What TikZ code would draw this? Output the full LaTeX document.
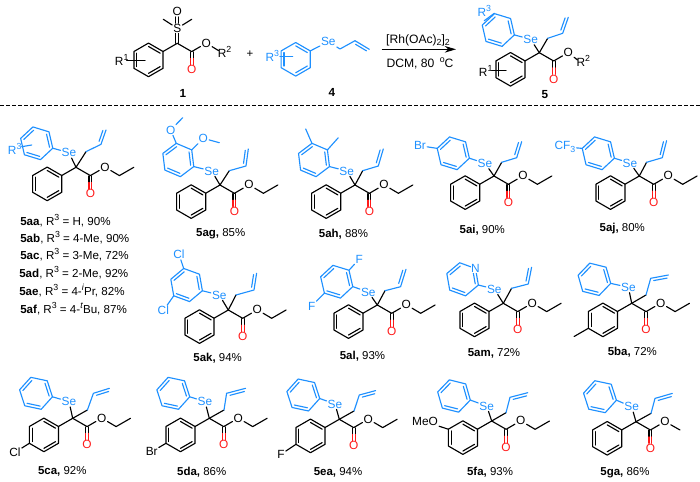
\documentclass[tikz,border=0pt]{standalone}
\usepackage{fontspec}
\setmainfont{Liberation Sans}
\usetikzlibrary{calc,arrows.meta}
\definecolor{chemblue}{RGB}{30,144,255}
\definecolor{chemred}{RGB}{255,25,25}
\newcommand\sps[1]{\raisebox{0.42em}{\fontsize{6.6}{6}\selectfont #1}}
\newcommand\sbs[1]{\raisebox{-0.22em}{\fontsize{6.6}{6}\selectfont #1}}
\tikzset{
  bond/.style={line width=0.85pt,line join=round,line cap=round},
  bbond/.style={bond,chemblue},
  atom/.style={inner sep=0.7pt,font=\fontsize{8.9}{9}\selectfont},
  blueatom/.style={atom,text=chemblue},
  redatom/.style={atom,text=chemred},
  captext/.style={inner sep=0pt,font=\fontsize{8.6}{10}\selectfont},
  listtext/.style={inner sep=0pt,anchor=base west,font=\fontsize{8.7}{10}\selectfont},
  condtext/.style={inner sep=0pt,anchor=base,font=\fontsize{9.1}{10}\selectfont},
  labeltext/.style={inner sep=0pt,font=\fontsize{8.8}{10}\selectfont\bfseries},
}
% ring: (#1-ctr) must exist; #2 colour; #3 rotation of vertex 0
\newcommand\hexa[3]{%
  \begin{scope}[shift={(#1-ctr)}]
    \foreach \k in {0,...,5}{\coordinate (#1-\k) at ({#3+60*\k}:16.8);}
  \end{scope}
  \draw[bond,#2] (#1-0)--(#1-1)--(#1-2)--(#1-3)--(#1-4)--(#1-5)--cycle;
  \draw[bond,#2] ($(#1-ctr)!0.8!(#1-5)$)--($(#1-ctr)!0.8!(#1-0)$);
  \draw[bond,#2] ($(#1-ctr)!0.8!(#1-1)$)--($(#1-ctr)!0.8!(#1-2)$);
  \draw[bond,#2] ($(#1-ctr)!0.8!(#1-3)$)--($(#1-ctr)!0.8!(#1-4)$);
}
% quaternary carbon, C(=O)O; #1 name, #2,#3 position
\newcommand\ester[3]{%
  \coordinate (#1-c) at (#2,#3);
  \begin{scope}[shift={(#1-c)}]
    \coordinate (#1-ec) at (14.4,8.3);
    \node[redatom] (#1-od) at (14.4,26.6) {O};
    \node[atom] (#1-o) at (29,-0.2) {O};
    \draw[bond] (#1-c)--(#1-ec)--(#1-o);
    \draw[bond] (13,8.6)--(13,15.2) (15.8,8.6)--(15.8,15.2);
    \draw[bond,chemred] (13,15.2)--(13,21.6) (15.8,15.2)--(15.8,21.6);
  \end{scope}
}
\newcommand\ethyl[1]{%
  \begin{scope}[shift={(#1-c)}]
    \coordinate (#1-e1) at (43.4,8.3);
    \coordinate (#1-e2) at (57.8,0);
  \end{scope}
  \draw[bond] (#1-o)--(#1-e1)--(#1-e2);
}
\newcommand\aryl[1]{%
  \begin{scope}[shift={(#1-c)}]
    \coordinate (#1-a-ctr) at (-28.8,16.6);
  \end{scope}
  \hexa{#1-a}{black}{90}
  \draw[bond] (#1-c)--(#1-a-4);
}
% name; Se x,y; ring centre x,y; ring rotation (all relative to the carbon)
\newcommand\selenyl[6]{%
  \begin{scope}[shift={(#1-c)}]
    \node[blueatom] (#1-se) at (#2,#3) {Se};
    \coordinate (#1-r-ctr) at (#4,#5);
  \end{scope}
  \hexa{#1-r}{chemblue}{#6}
  \draw[bond] (#1-c)--(#1-se);
  \draw[bbond] (#1-se)--(#1-r-0);
}
% name; CH2 x,y; CH x,y; =CH2 x,y; side of the second line
\newcommand\allyl[8]{%
  \begin{scope}[shift={(#1-c)}]
    \coordinate (#1-l1) at (#2,#3);
    \coordinate (#1-l2) at (#4,#5);
    \coordinate (#1-l3) at (#6,#7);
  \end{scope}
  \draw[bond] (#1-c)--(#1-l1);
  \draw[bbond] (#1-l1)--(#1-l2)--(#1-l3);
  \draw[bbond] ($(#1-l2)!0.14!(#1-l3)!2.1pt!#8:(#1-l3)$)--($(#1-l3)!0.1!(#1-l2)!2.1pt!-#8:(#1-l2)$);
}
\begin{document}
\begin{tikzpicture}[x=0.75pt,y=-0.75pt]
\useasboundingbox (0,0) rectangle (700,482);

% ---------- reactant 1
\ester{m}{177.3}{43.3}
\aryl{m}
\node[atom] (m-s) at (177.3,28.3) {S};
\node[atom] (m-so) at (177.3,11.7) {O};
\coordinate (m-me1) at (163.3,19.3);
\coordinate (m-me2) at (191.7,19.3);
\draw[bond] (m-me1)--(m-s)--(m-me2);
\draw[bond] (175.9,43.3)--(175.9,33.4) (178.7,43.3)--(178.7,33.4);
\draw[bond] (175.9,23.2)--(175.9,17) (178.7,23.2)--(178.7,17);
\node[atom,anchor=base] (m-r2) at (224.5,57.3) {R\sps{2}};
\draw[bond] (m-o)--(218.5,50.6) coordinate (m-r2e);
\node[atom,anchor=base] (m-r1) at (121.7,65) {R\sps{1}};
\coordinate (m-r1a) at (126.7,60.7);
\coordinate (m-r1b) at (145,60.7);
\draw[bond] (m-r1a)--(m-r1b);
\node[labeltext] (n-1) at (183,93) {1};
\node[captext] (plus) at (250,54) {+};

% ---------- reactant 4
\coordinate (s-r-ctr) at (295.7,59.3);
\hexa{s-r}{chemblue}{90}
\node[blueatom] (s-se) at (328.3,41.7) {Se};
\coordinate (s-l1) at (340,49);
\coordinate (s-l2) at (355,40.7);
\coordinate (s-l3) at (369.3,49.3);
\draw[bbond] (s-r-4)--(s-se)--(s-l1)--(s-l2)--(s-l3);
\draw[bbond] ($(s-l2)!0.14!(s-l3)!2.1pt!-90:(s-l3)$)--($(s-l3)!0.1!(s-l2)!2.1pt!90:(s-l2)$);
\node[blueatom,anchor=base] (s-r3) at (272.3,61) {R\sps{3}};
\coordinate (s-r3a) at (280,56.7);
\coordinate (s-r3b) at (292.7,56.7);
\draw[bbond] (s-r3a)--(s-r3b);
\node[labeltext] (n-4) at (332,92) {4};

% ---------- arrow
\coordinate (arr-a) at (381.7,49.3);
\coordinate (arr-b) at (456,49.3);
\draw[line width=0.75pt,-{Stealth[length=8.5pt,width=5pt]}] (arr-a)--(arr-b);
\node[condtext] (cond-a) at (418,43) {[Rh(OAc)\sbs{2}]\sbs{2}};
\node[condtext] (cond-b) at (420,67.5) {DCM, 80\, \sps{o}C};

% ---------- product 5
\ester{p}{539.3}{52.7}
\aryl{p}
\selenyl{p}{-8.6}{-13.4}{-41}{-22.7}{17}
\allyl{p}{8.4}{-14.4}{23.4}{-19.4}{29}{-35.4}{90}
\node[atom,anchor=base] (p-r2) at (583.3,66.7) {R\sps{2}};
\draw[bond] (p-o)--(577.5,60) coordinate (p-r2e);
\node[atom,anchor=base] (p-r1) at (485.7,76) {R\sps{1}};
\coordinate (p-r1a) at (491.7,70.7);
\coordinate (p-r1b) at (506,70.7);
\draw[bond] (p-r1a)--(p-r1b);
\node[blueatom,anchor=base] (p-r3) at (484.3,16) {R\sps{3}};
\coordinate (p-r3a) at (484.3,20.7);
\coordinate (p-r3b) at (494.3,13.3);
\draw[bbond] (p-r3a)--(p-r3b);
\node[labeltext] (n-5) at (545,95) {5};

% ---------- separator
\coordinate (sep-a) at (0,105.7);
\coordinate (sep-b) at (700,105.7);
\draw[line width=0.7pt,dash pattern=on 3.1pt off 1.4pt] (sep-a)--(sep-b);

% ---------- 5aa list
\ester{aa}{76}{167.3}\aryl{aa}\ethyl{aa}
\selenyl{aa}{-7}{-14.6}{-39.3}{-24}{17}
\allyl{aa}{10}{-15.6}{25}{-23}{30}{-37.3}{90}
\node[blueatom,anchor=base] (aa-r3) at (14.7,154.3) {R\sps{3}};
\coordinate (aa-r3a) at (21.7,146.7);
\coordinate (aa-r3b) at (31.7,145);
\draw[bbond] (aa-r3a)--(aa-r3b);
\node[listtext] (l1) at (20,225) {\textbf{5aa}, R\sps{3} = H, 90\%};
\node[listtext] (l2) at (20,242.2) {\textbf{5ab}, R\sps{3} = 4-Me, 90\%};
\node[listtext] (l3) at (20,259) {\textbf{5ac}, R\sps{3} = 3-Me, 72\%};
\node[listtext] (l4) at (19,277.2) {\textbf{5ad}, R\sps{3} = 2-Me, 92\%};
\node[listtext] (l5) at (19,295.6) {\textbf{5ae}, R\sps{3} = 4-\sps{\textit{i}}Pr, 82\%};
\node[listtext] (l6) at (20,313.2) {\textbf{5af}, R\sps{3} = 4-\sps{\textit{t}}Bu, 87\%};

% ---------- 5ag
\ester{ag}{220}{185}\aryl{ag}\ethyl{ag}
\selenyl{ag}{-8.3}{-14}{-41.7}{-25}{23}
\allyl{ag}{9.3}{-14.3}{26}{-19}{28.3}{-36}{90}
\node[blueatom] (ag-o1) at (170.7,130) {O};
\coordinate (ag-me1) at (182.7,117.7);
\draw[bbond] (ag-r-4)--(ag-o1)--(ag-me1);
\node[blueatom] (ag-o2) at (203.3,138.3) {O};
\coordinate (ag-me2) at (219.3,142.7);
\draw[bbond] (ag-r-5)--(ag-o2)--(ag-me2);
\node[captext] (cap-ag) at (220.7,234) {\textbf{5ag,} 85\%};

% ---------- 5ah
\ester{ah}{355}{185}\aryl{ah}\ethyl{ah}
\selenyl{ah}{-8.3}{-14}{-41}{-25}{23}
\allyl{ah}{7.7}{-14.3}{23.3}{-19}{28.3}{-36}{90}
\coordinate (ah-me1) at (305.7,129);
\coordinate (ah-me2) at (338.3,137.7);
\draw[bbond] (ah-r-4)--(ah-me1) (ah-r-5)--(ah-me2);
\node[captext] (cap-ah) at (343.5,234) {\textbf{5ah,} 88\%};

% ---------- 5ai
\ester{ai}{494}{176}\aryl{ai}\ethyl{ai}
\selenyl{ai}{-9}{-12.7}{-40.7}{-22.7}{17}
\allyl{ai}{7.7}{-13.7}{22.7}{-18.3}{27.7}{-34.3}{90}
\node[blueatom] (ai-br) at (420,145.7) {Br};
\draw[bbond] (ai-r-3)--(ai-br);
\node[captext] (cap-ai) at (482.3,230) {\textbf{5ai,} 90\%};

% ---------- 5aj
\ester{aj}{639.3}{176}\aryl{aj}\ethyl{aj}
\selenyl{aj}{-9.3}{-13}{-41}{-22.7}{17}
\allyl{aj}{7.3}{-13.7}{23}{-18.3}{27.3}{-35.3}{90}
\node[blueatom,anchor=base] (aj-cf) at (565,149.6) {CF\sbs{3}};
\draw[bbond] (aj-r-3)--(aj-cf);
\node[captext] (cap-aj) at (622.3,229) {\textbf{5aj,} 80\%};

% ---------- 5ak
\ester{ak}{228.3}{310}\aryl{ak}\ethyl{ak}
\selenyl{ak}{-9}{-15}{-41.7}{-25}{20}
\allyl{ak}{7.7}{-15}{25.7}{-20}{28.3}{-36.7}{90}
\node[blueatom] (ak-cl1) at (179,254.3) {Cl};
\node[blueatom] (ak-cl2) at (163.3,310.7) {Cl};
\draw[bbond] (ak-r-4)--(ak-cl1) (ak-r-2)--(ak-cl2);
\node[captext] (cap-ak) at (217.7,358.3) {\textbf{5ak,} 94\%};

% ---------- 5al
\ester{al}{377.3}{305}\aryl{al}\ethyl{al}
\selenyl{al}{-9}{-13}{-40.6}{-23.3}{17}
\allyl{al}{7.7}{-14.3}{23.3}{-18.3}{28.7}{-35.7}{90}
\node[blueatom] (al-f1) at (359.3,259) {F};
\node[blueatom] (al-f2) at (311.7,306) {F};
\draw[bbond] (al-r-5)--(al-f1) (al-r-2)--(al-f2);
\node[captext] (cap-al) at (362.5,356) {\textbf{5al,} 93\%};

% ---------- 5am
\ester{am}{503.3}{303.3}\aryl{am}\ethyl{am}
\selenyl{am}{-9}{-14.3}{-40.7}{-24}{20}
\allyl{am}{8.3}{-15}{25}{-19.3}{28.3}{-36}{90}
\node[blueatom,fill=white,inner sep=0.4pt] (am-n) at (am-r-5) {N};
\node[captext] (cap-am) at (494,353) {\textbf{5am,} 72\%};

% ---------- 5ba
\ester{ba}{631.7}{303.3}\aryl{ba}\ethyl{ba}
\selenyl{ba}{-3.3}{-16}{-37.3}{-24}{14}
\allyl{ba}{14.3}{-8.3}{19}{-25}{36.7}{-28.3}{-90}
\coordinate (ba-me) at (574.1,336.5);
\draw[bond] (ba-a-1)--(ba-me);
\node[captext] (cap-ba) at (632.3,352) {\textbf{5ba,} 72\%};

% ---------- 5ca
\ester{ca}{72.7}{418.3}\aryl{ca}\ethyl{ca}
\selenyl{ca}{-3.7}{-16.7}{-36.7}{-25}{12}
\allyl{ca}{14.7}{-8.3}{20.7}{-25}{36.7}{-30}{-90}
\node[atom] (ca-cl) at (15,452.3) {Cl};
\draw[bond] (ca-a-1)--(ca-cl);
\node[captext] (cap-ca) at (62.3,471.7) {\textbf{5ca,} 92\%};

% ---------- 5da
\ester{da}{209.3}{418.3}\aryl{da}\ethyl{da}
\selenyl{da}{-4.3}{-16.7}{-36}{-25}{12}
\allyl{da}{14.7}{-8.3}{17.3}{-25}{36.3}{-30}{-90}
\node[atom] (da-br) at (151.7,451.7) {Br};
\draw[bond] (da-a-1)--(da-br);
\node[captext] (cap-da) at (201.7,472.3) {\textbf{5da,} 86\%};

% ---------- 5ea
\ester{ea}{339.3}{419.3}\aryl{ea}\ethyl{ea}
\selenyl{ea}{-4.3}{-15.3}{-36}{-24.3}{12}
\allyl{ea}{14.7}{-8.3}{20}{-24.3}{36.3}{-28.7}{-90}
\node[atom] (ea-f) at (281,454.3) {F};
\draw[bond] (ea-a-1)--(ea-f);
\node[captext] (cap-ea) at (338,472.3) {\textbf{5ea,} 94\%};

% ---------- 5fa
\ester{fa}{491.7}{421}\aryl{fa}\ethyl{fa}
\selenyl{fa}{-5}{-15}{-37.7}{-25}{14}
\allyl{fa}{14.3}{-8.3}{18.3}{-23.7}{36}{-28.3}{-90}
\node[atom] (fa-meo) at (425,421.7) {MeO};
\draw[bond] (fa-a-2)--(fa-meo);
\node[captext] (cap-fa) at (490,472.7) {\textbf{5fa,} 93\%};

% ---------- 5ga
\ester{ga}{636}{421.7}\aryl{ga}
\selenyl{ga}{-4.3}{-15}{-36}{-25}{12}
\allyl{ga}{15}{-8.3}{19}{-23.3}{36.3}{-28.3}{-90}
\coordinate (ga-me) at (680,430);
\draw[bond] (ga-o)--(ga-me);
\node[captext] (cap-ga) at (625,472.3) {\textbf{5ga,} 86\%};
\end{tikzpicture}
\end{document}
